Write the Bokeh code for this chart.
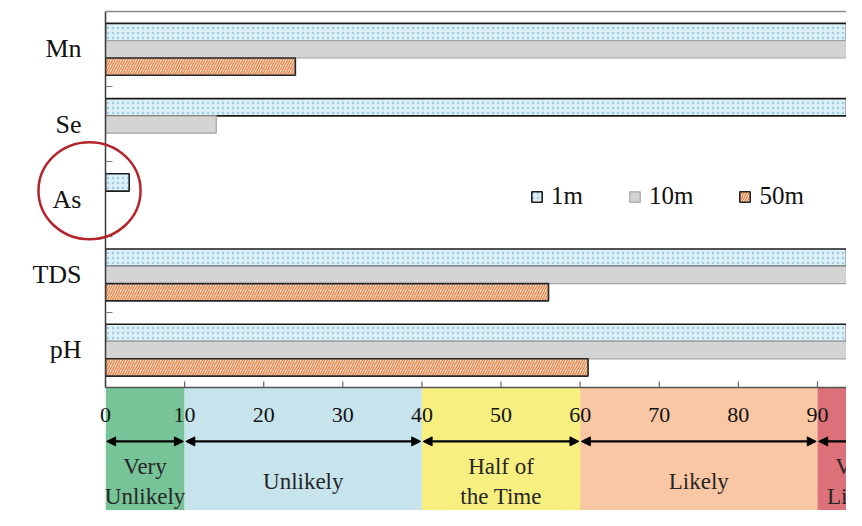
from bokeh.plotting import figure
from bokeh.models import ColumnDataSource, FixedTicker, Span, Arrow, NormalHead, Range1d
from bokeh.core.properties import value
from bokeh.embed import file_html
from bokeh.resources import INLINE

# ---------------- data ----------------
categories = ["Mn", "Se", "As", "TDS", "pH"]
series = ["1m", "10m", "50m"]
vals_1m = [100, 100, 3, 100, 100]
vals_10m = [100, 14, 0, 100, 100]
vals_50m = [24, 0, 0, 56, 61]
x_ticks = [0, 10, 20, 30, 40, 50, 60, 70, 80, 90]
zone_edges = [0, 10, 40, 60, 90, 100]
zone_labels = ["Very\nUnlikely", "Unlikely", "Half of\nthe Time", "Likely", "Very\nLikely"]
zone_colors = ["#78c499", "#c7e4ed", "#f7ef80", "#f9c7a3", "#dc7179"]
highlight = "As"

SERIF = value("Liberation Serif")

n = len(categories)
yc = [2 * (n - 1 - i) + 1 for i in range(n)]   # category centres (2 units per category)

p = figure(width=846, height=510, output_backend="svg", toolbar_location=None,
           x_range=Range1d(0, 93.67), y_range=Range1d(-3.274, 10.05),
           x_axis_location=None,
           min_border_left=105, min_border_right=0, min_border_top=9, min_border_bottom=0)
p.outline_line_color = None
p.grid.visible = False
p.background_fill_color = "white"
p.border_fill_color = "white"

# ---------------- probability band ----------------
band = ColumnDataSource(dict(left=zone_edges[:-1], right=zone_edges[1:], color=zone_colors,
                             xc=[(a + b) / 2 for a, b in zip(zone_edges[:-1], zone_edges[1:])],
                             label=zone_labels))
p.quad(left="left", right="right", bottom=-5, top=0, fill_color="color", line_color=None, source=band)

# ---------------- bars ----------------
offsets = {"1m": 0.45, "10m": -0.01, "50m": -0.47}
bar_h = 0.46
styles = {
    "1m": dict(fill_color="#ddeff7", hatch_pattern="dot", hatch_color="#9fcde0", hatch_scale=5,
               hatch_weight=1, line_color="#1c1c1c", line_width=1.6),
    "10m": dict(fill_color="#d4d4d4", line_color="#a3a3a3", line_width=1.2),
    "50m": dict(fill_color="#fcefe5", hatch_pattern="right_diagonal_line", hatch_color="#e98b52",
                hatch_scale=5, hatch_weight=1.6, line_color="#262626", line_width=1.6),
}
for s, vals in zip(series, [vals_1m, vals_10m, vals_50m]):
    ys = [y + offsets[s] for y, v in zip(yc, vals) if v > 0]
    rs = [v for v in vals if v > 0]
    src = ColumnDataSource(dict(y=ys, right=rs))
    p.hbar(y="y", left=0, right="right", height=bar_h, source=src, legend_label=s, **styles[s])

# ---------------- x axis (drawn across the band) ----------------
p.segment(x0=[zone_edges[0]], y0=[0], x1=[zone_edges[-1]], y1=[0], line_color="#555555", line_width=1.5)
p.segment(x0=x_ticks, y0=[0] * len(x_ticks), x1=x_ticks, y1=[0.16] * len(x_ticks),
          line_color="#666666", line_width=1.2)
p.text(x=x_ticks, y=[-0.745] * len(x_ticks), text=[str(t) for t in x_ticks],
       text_align="center", text_baseline="middle", text_font=SERIF,
       text_font_size="22px", text_color="#111111", level="overlay")

# arrows spanning each zone
arr = ColumnDataSource(dict(x0=[a + 0.15 for a in zone_edges[:-1]], x1=[b - 0.15 for b in zone_edges[1:]],
                            y=[-1.436] * (len(zone_edges) - 1)))
p.add_layout(Arrow(start=NormalHead(size=9, fill_color="black", line_color="black"),
                   end=NormalHead(size=9, fill_color="black", line_color="black"),
                   x_start="x0", y_start="y", x_end="x1", y_end="y", source=arr,
                   line_color="black", line_width=2.4))

p.text(x="xc", y=-2.5, text="label", source=band, text_align="center", text_baseline="middle",
       text_font=SERIF, text_font_size="23px", text_line_height=1.2, text_color="#262626")

# ---------------- top frame line ----------------
p.add_layout(Span(location=2 * n, dimension="width", line_color="#8a8a8a", line_width=1.5))

# ---------------- y axis ----------------
ax = p.yaxis[0]
ax.ticker = FixedTicker(ticks=yc, minor_ticks=[2 * k for k in range(1, n)])
ax.major_label_overrides = {y: c for y, c in zip(yc, categories)}
ax.bounds = (0, 2 * n)
ax.axis_line_color = "#3a3a3a"
ax.axis_line_width = 1.5
ax.major_tick_line_color = None
ax.minor_tick_in = 7
ax.minor_tick_out = 0
ax.minor_tick_line_color = "#777777"
ax.minor_tick_line_width = 1.2
ax.major_label_standoff = 18
ax.major_label_text_font = "Liberation Serif"
ax.major_label_text_font_size = "26px"
ax.major_label_text_color = "#111111"

# ---------------- highlight circle around "As" ----------------
yh = yc[categories.index(highlight)]
p.ellipse(x=[-2.02], y=[yh + 0.23], width=12.9, height=2.58, fill_color=None,
          line_color="#b5232b", line_width=2.5, level="overlay")

# ---------------- legend ----------------
lg = p.legend[0]
lg.orientation = "horizontal"
lg.location = (425, 300)
lg.padding = 0
lg.margin = 0
lg.spacing = 45
lg.glyph_width = 13
lg.glyph_height = 13
lg.label_standoff = 8
lg.label_text_font = "Liberation Serif"
lg.label_text_font_size = "25px"
lg.label_text_color = "#111111"
lg.background_fill_alpha = 0
lg.border_line_color = None

open("out.html", "w").write(file_html(p, INLINE))
